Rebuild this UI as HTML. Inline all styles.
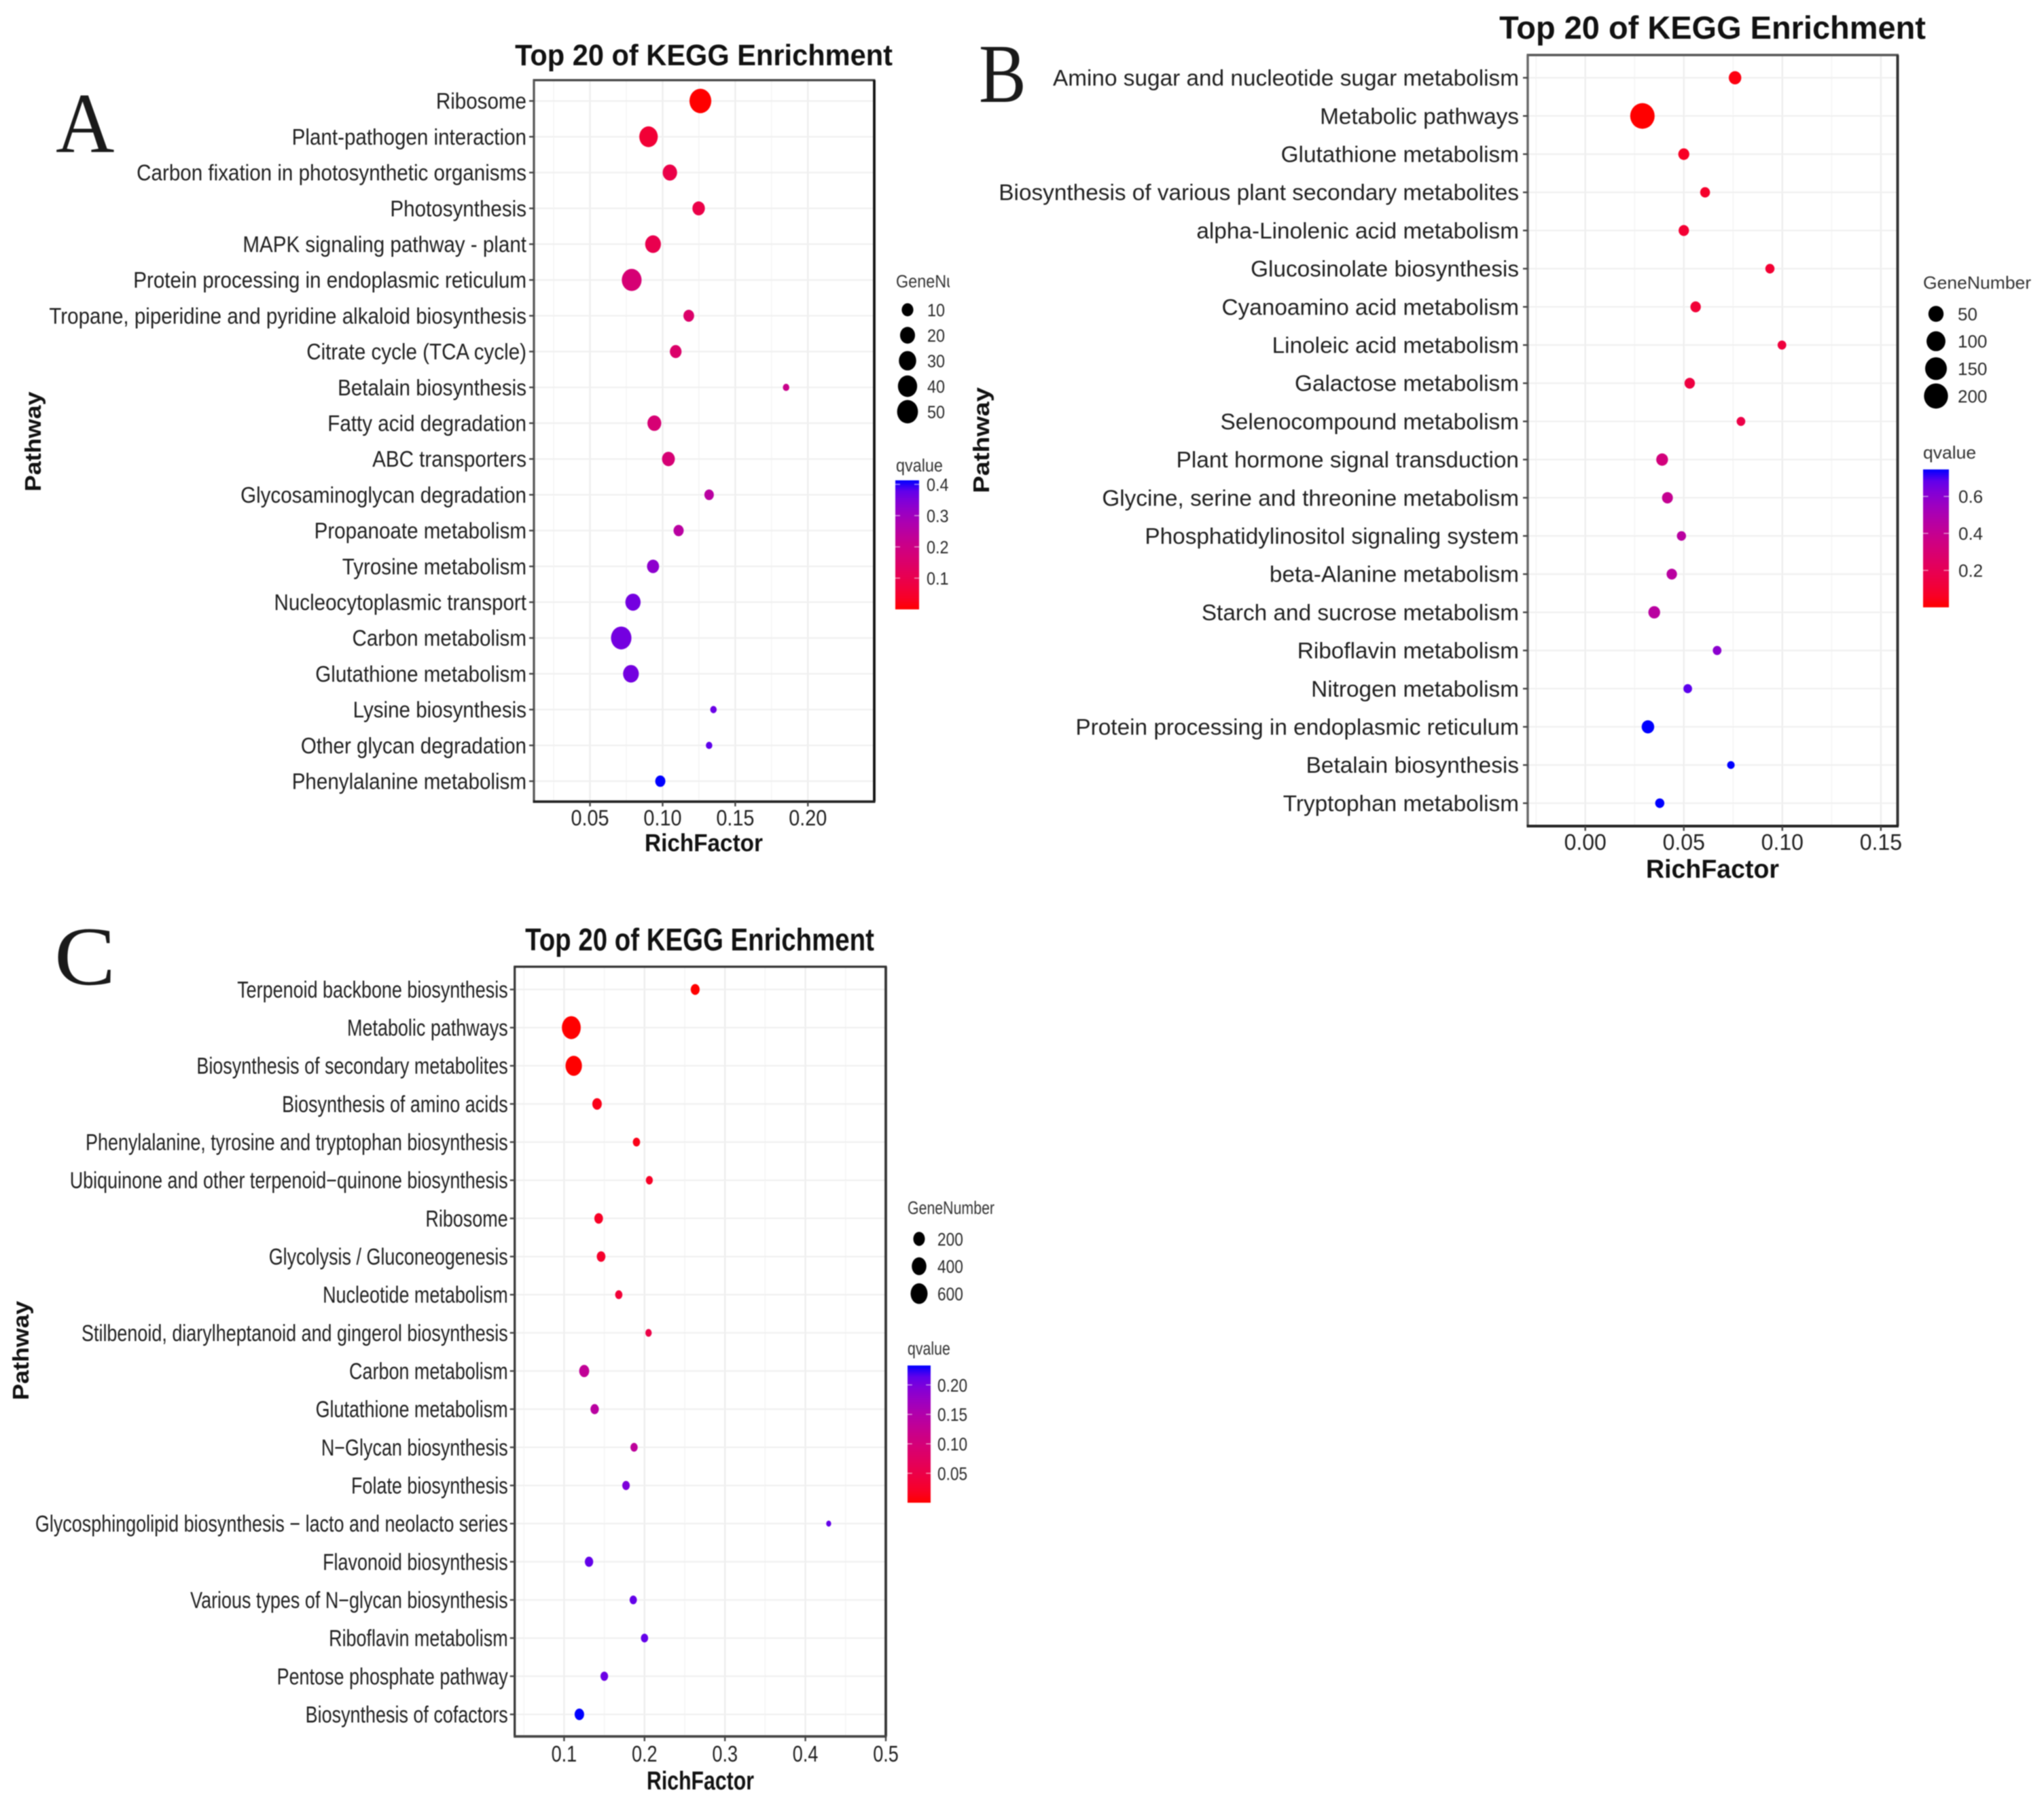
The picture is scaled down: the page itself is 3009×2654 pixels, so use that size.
<!DOCTYPE html>
<html lang="en">
<head>
<meta charset="utf-8">
<title>Top 20 of KEGG Enrichment</title>
<style>
html,body{margin:0;padding:0;background:#fff;}
#figure{display:block;width:3009px;height:2654px;filter:blur(0.9px);font-family:"Liberation Sans",sans-serif;}
</style>
</head>
<body>
<svg id="figure" xmlns="http://www.w3.org/2000/svg" width="3009" height="2654" viewBox="0 0 3009 2654">
<defs id="defs"></defs>
<rect x="0" y="0" width="3009" height="2654" fill="#fff"></rect>
</svg>
<script>
/* Panel A data */
const aPathways = ["Ribosome","Plant-pathogen interaction","Carbon fixation in photosynthetic organisms","Photosynthesis","MAPK signaling pathway - plant","Protein processing in endoplasmic reticulum","Tropane, piperidine and pyridine alkaloid biosynthesis","Citrate cycle (TCA cycle)","Betalain biosynthesis","Fatty acid degradation","ABC transporters","Glycosaminoglycan degradation","Propanoate metabolism","Tyrosine metabolism","Nucleocytoplasmic transport","Carbon metabolism","Glutathione metabolism","Lysine biosynthesis","Other glycan degradation","Phenylalanine metabolism"];
const aRichFactor = [0.126,0.0903,0.105,0.1248,0.0934,0.0787,0.118,0.109,0.185,0.0943,0.104,0.132,0.111,0.0934,0.0796,0.0715,0.0782,0.135,0.132,0.0984];
const aGeneNumber = [56,36,18,12,23,43,8,10,4,16,13,6,7,11,21,47,23,4,4,7];
const aQvalue = [0.0,0.06,0.09,0.09,0.1,0.17,0.15,0.15,0.21,0.17,0.17,0.25,0.25,0.33,0.36,0.36,0.36,0.37,0.38,0.413];
const aXTicks = [0.05,0.10,0.15,0.20];
const aXTickLabels = ["0.05","0.10","0.15","0.20"];
const aSizeBreaks = [10,20,30,40,50];
const aQBreaks = [0.1,0.2,0.3,0.4];
const aQLabels = ["0.1","0.2","0.3","0.4"];

/* Panel B data */
const bPathways = ["Amino sugar and nucleotide sugar metabolism","Metabolic pathways","Glutathione metabolism","Biosynthesis of various plant secondary metabolites","alpha-Linolenic acid metabolism","Glucosinolate biosynthesis","Cyanoamino acid metabolism","Linoleic acid metabolism","Galactose metabolism","Selenocompound metabolism","Plant hormone signal transduction","Glycine, serine and threonine metabolism","Phosphatidylinositol signaling system","beta-Alanine metabolism","Starch and sucrose metabolism","Riboflavin metabolism","Nitrogen metabolism","Protein processing in endoplasmic reticulum","Betalain biosynthesis","Tryptophan metabolism"];
const bRichFactor = [0.076,0.029,0.05,0.0608,0.05,0.0937,0.056,0.0998,0.053,0.079,0.039,0.0417,0.0488,0.0439,0.035,0.0669,0.052,0.0318,0.0739,0.0378];
const bGeneNumber = [26,210,17,12,14,10,14,9,14,9,21,16,10,14,21,9,9,26,8,10];
const bQvalue = [0.02,0.0,0.06,0.08,0.1,0.1,0.11,0.13,0.14,0.16,0.33,0.4,0.45,0.45,0.45,0.6,0.69,0.746,0.746,0.746];
const bXTicks = [0.00,0.05,0.10,0.15];
const bXTickLabels = ["0.00","0.05","0.10","0.15"];
const bSizeBreaks = [50,100,150,200];
const bQBreaks = [0.2,0.4,0.6];
const bQLabels = ["0.2","0.4","0.6"];

/* Panel C data */
const cPathways = ["Terpenoid backbone biosynthesis","Metabolic pathways","Biosynthesis of secondary metabolites","Biosynthesis of amino acids","Phenylalanine, tyrosine and tryptophan biosynthesis","Ubiquinone and other terpenoid\u2212quinone biosynthesis","Ribosome","Glycolysis / Gluconeogenesis","Nucleotide metabolism","Stilbenoid, diarylheptanoid and gingerol biosynthesis","Carbon metabolism","Glutathione metabolism","N\u2212Glycan biosynthesis","Folate biosynthesis","Glycosphingolipid biosynthesis \u2212 lacto and neolacto series","Flavonoid biosynthesis","Various types of N\u2212glycan biosynthesis","Riboflavin metabolism","Pentose phosphate pathway","Biosynthesis of cofactors"];
const cRichFactor = [0.263,0.109,0.112,0.141,0.19,0.206,0.143,0.146,0.168,0.205,0.125,0.138,0.187,0.177,0.429,0.131,0.186,0.2,0.15,0.119];
const cGeneNumber = [85,790,550,105,39,34,76,76,39,24,127,67,39,45,11,67,39,39,47,105];
const cQvalue = [0.0,0.0,0.0,0.01,0.01,0.02,0.02,0.025,0.035,0.05,0.13,0.14,0.135,0.198,0.212,0.212,0.212,0.212,0.208,0.233];
const cXTicks = [0.1,0.2,0.3,0.4,0.5];
const cXTickLabels = ["0.1","0.2","0.3","0.4","0.5"];
const cSizeBreaks = [200,400,600];
const cQBreaks = [0.05,0.10,0.15,0.20];
const cQLabels = ["0.05","0.10","0.15","0.20"];

const NS = "http://www.w3.org/2000/svg";
const svg = document.getElementById("figure");
const defs = document.getElementById("defs");
const INK = "#1f1f1f";

function node(tag, name, parent) {
  const el = document.createElementNS(NS, tag);
  
  
  parent.appendChild(el);
  return el;
}
function line(name, parent, x1, y1, x2, y2, stroke, width) {
  const el = node("line", name, parent);
  el.setAttribute("x1", x1); el.setAttribute("y1", y1);
  el.setAttribute("x2", x2); el.setAttribute("y2", y2);
  el.setAttribute("stroke", stroke); el.setAttribute("stroke-width", width);
  return el;
}
function label(name, parent, str, x, y, size, o) {
  o = o || {};
  const el = node("text", name, parent);
  el.textContent = str;
  el.setAttribute("font-size", size);
  el.setAttribute("fill", o.fill || INK);
  el.setAttribute("font-family", o.family || '"Liberation Sans", sans-serif');
  if (o.bold) el.setAttribute("font-weight", "bold");
  el.setAttribute("text-anchor", o.anchor || "start");
  let sx = o.stretch || 1;
  if (o.target) sx = o.target / el.getComputedTextLength();
  const rot = o.rotate ? " rotate(" + o.rotate + ")" : "";
  el.setAttribute("transform", "translate(" + x + " " + y + ")" + rot + " scale(" + sx + " 1)");
  return el;
}

/* ggplot-style red-to-blue gradient, interpolated in Lab */
function toLab(c) {
  const f = c.map(v => { v /= 255; return v > 0.04045 ? Math.pow((v + 0.055) / 1.055, 2.4) : v / 12.92; });
  const X = (0.4124 * f[0] + 0.3576 * f[1] + 0.1805 * f[2]) / 0.95047;
  const Y = 0.2126 * f[0] + 0.7152 * f[1] + 0.0722 * f[2];
  const Z = (0.0193 * f[0] + 0.1192 * f[1] + 0.9505 * f[2]) / 1.08883;
  const g = t => t > 0.008856 ? Math.cbrt(t) : 7.787 * t + 16 / 116;
  return [116 * g(Y) - 16, 500 * (g(X) - g(Y)), 200 * (g(Y) - g(Z))];
}
function fromLab(l) {
  const fy = (l[0] + 16) / 116, fx = fy + l[1] / 500, fz = fy - l[2] / 200;
  const h = t => t * t * t > 0.008856 ? t * t * t : (t - 16 / 116) / 7.787;
  const X = h(fx) * 0.95047, Y = h(fy), Z = h(fz) * 1.08883;
  const r = [3.2406 * X - 1.5372 * Y - 0.4986 * Z, -0.9689 * X + 1.8758 * Y + 0.0415 * Z, 0.0557 * X - 0.204 * Y + 1.057 * Z];
  const out = r.map(v => { v = Math.max(0, Math.min(1, v)); v = v > 0.0031308 ? 1.055 * Math.pow(v, 1 / 2.4) - 0.055 : 12.92 * v; return Math.round(v * 255); });
  return "rgb(" + out.join(",") + ")";
}
const LAB_RED = toLab([255, 0, 0]);
const LAB_BLUE = toLab([0, 0, 255]);
function gradient(t) {
  t = Math.max(0, Math.min(1, t));
  return fromLab(LAB_RED.map((v, i) => v + (LAB_BLUE[i] - v) * t));
}

function drawPanel(p) {
  const g = node("g", p.id + "-panel", svg);
  const xScale = v => p.left + (v - p.xMin) / (p.xMax - p.xMin) * (p.right - p.left);
  const yRow = i => p.firstRow + i * p.rowStep;
  const sizeScale = n => p.dMin + (p.dMax - p.dMin) * Math.sqrt(Math.max(0, n - p.gMin) / (p.gMax - p.gMin));
  const colorScale = q => gradient(q / p.qMax);

  label(p.id + "-panel-letter", g, p.letter, p.letterX, p.letterY, p.letterSize, {family: '"Liberation Serif", serif', fill: "#1a1a1a", stretch: p.letterStretch});
  label(p.id + "-chart-title", g, "Top 20 of KEGG Enrichment", (p.titleL + p.titleR) / 2, p.titleY, p.titleSize, {bold: true, anchor: "middle", target: p.titleR - p.titleL, fill: "#111"});

  const grid = node("g", p.id + "-gridlines", g);
  p.xTicks.forEach((v, i) => {
    line(p.id + "-x-major-gridline", grid, xScale(v), p.top, xScale(v), p.bottom, "#eeeeee", 2.4);
    if (i < p.xTicks.length - 1) {
      const m = (v + p.xTicks[i + 1]) / 2;
      line(p.id + "-x-minor-gridline", grid, xScale(m), p.top, xScale(m), p.bottom, "#f5f5f5", 1.6);
    }
  });
  const m0 = p.xTicks[0] - (p.xTicks[1] - p.xTicks[0]) / 2;
  if (m0 > p.xMin) line(p.id + "-x-minor-gridline", grid, xScale(m0), p.top, xScale(m0), p.bottom, "#f5f5f5", 1.6);
  p.pathways.forEach((name, i) => {
    line(p.id + "-y-gridline", grid, p.left, yRow(i), p.right, yRow(i), "#f0f0f0", 2.2);
  });

  const dots = node("g", p.id + "-dots", g);
  p.pathways.forEach((name, i) => {
    const d = sizeScale(p.gene[i]);
    const dot = node("ellipse", p.id + "-dot", dots);
    dot.setAttribute("cx", xScale(p.rich[i]));
    dot.setAttribute("cy", yRow(i));
    dot.setAttribute("rx", d / 2 * p.dotX);
    dot.setAttribute("ry", d / 2 * p.dotY);
    dot.setAttribute("fill", colorScale(p.q[i]));
  });

  const frame = node("g", p.id + "-plot-frame", g);
  line(p.id + "-frame-top", frame, p.left - 1.5, p.top, p.right + 1.5, p.top, p.frameTop, p.frameWidth);
  line(p.id + "-frame-left", frame, p.left, p.top, p.left, p.bottom, p.frameLeft, p.frameWidth);
  line(p.id + "-frame-right", frame, p.right, p.top, p.right, p.bottom, p.frameRight, p.frameWidth + 0.6);
  line(p.id + "-frame-bottom", frame, p.left - 1.5, p.bottom, p.right + 1.5, p.bottom, p.frameBottom, p.frameWidth + 0.6);

  const probe = node("text", p.id + "-probe", g);
  probe.textContent = p.longest;
  probe.setAttribute("font-size", p.rowFont);
  probe.setAttribute("font-family", '"Liberation Sans", sans-serif');
  const rowStretch = p.longestWidth / probe.getComputedTextLength();
  g.removeChild(probe);

  p.pathways.forEach((name, i) => {
    line(p.id + "-y-tick", g, p.left - 7, yRow(i), p.left, yRow(i), "#444", 2.4);
    label(p.id + "-pathway-label", g, name, p.left - p.labelGap, yRow(i) + p.rowFont * 0.35, p.rowFont, {anchor: "end", stretch: rowStretch});
  });
  p.xTicks.forEach((v, i) => {
    line(p.id + "-x-tick", g, xScale(v), p.bottom, xScale(v), p.bottom + 7, "#444", 2.4);
    label(p.id + "-x-tick-label", g, p.xLabels[i], xScale(v), p.xLabelY, p.tickFont, {anchor: "middle", stretch: p.tickStretch});
  });
  label(p.id + "-x-axis-title", g, "RichFactor", (p.xTitleL + p.xTitleR) / 2, p.xTitleY, p.xTitleFont, {bold: true, anchor: "middle", target: p.xTitleR - p.xTitleL, fill: "#111"});
  label(p.id + "-y-axis-title", g, "Pathway", p.yTitleX, p.yTitleY, p.yTitleFont, {bold: true, anchor: "middle", rotate: -90, target: p.yTitleLen, fill: "#111"});

  /* size legend */
  const sizeLegend = node("g", p.id + "-size-legend", g);
  let titleParent = sizeLegend;
  if (p.legendClip) {
    const cp = node("clipPath", p.id + "-legend-title-clip", defs);
    cp.setAttribute("id", p.id + "-legend-clip");
    const cr = node("rect", p.id + "-legend-title-clip-rect", cp);
    cr.setAttribute("x", p.legendX - 5); cr.setAttribute("y", 0);
    cr.setAttribute("width", p.legendClip - p.legendX + 5); cr.setAttribute("height", 2654);
    titleParent = node("g", p.id + "-legend-title-clip-group", sizeLegend);
    titleParent.setAttribute("clip-path", "url(#" + p.id + "-legend-clip)");
  }
  label(p.id + "-size-legend-title", titleParent, "GeneNumber", p.legendX, p.sizeTitleY, p.legendFont, {fill: "#333", stretch: p.legendTitleStretch});
  p.sizeBreaks.forEach((n, i) => {
    const d = sizeScale(n);
    const y = p.sizeY + i * p.sizeStep;
    const key = node("ellipse", p.id + "-size-legend-dot", sizeLegend);
    key.setAttribute("cx", p.sizeDotX); key.setAttribute("cy", y);
    key.setAttribute("rx", d / 2 * p.dotX); key.setAttribute("ry", d / 2 * p.dotY);
    key.setAttribute("fill", "#000");
    label(p.id + "-size-legend-label", sizeLegend, String(n), p.sizeLabelX, y + p.legendFont * 0.36, p.legendFont, {fill: "#2a2a2a", stretch: p.legendStretch});
  });

  /* colour legend */
  const colorLegend = node("g", p.id + "-qvalue-legend", g);
  label(p.id + "-qvalue-legend-title", colorLegend, "qvalue", p.legendX, p.qTitleY, p.legendFont, {fill: "#333", stretch: p.legendTitleStretch});
  const grad = node("linearGradient", p.id + "-colorbar-gradient", defs);
  grad.setAttribute("id", p.id + "-grad");
  grad.setAttribute("x1", "0"); grad.setAttribute("y1", "1"); grad.setAttribute("x2", "0"); grad.setAttribute("y2", "0");
  for (let s = 0; s <= 12; s++) {
    const stop = node("stop", p.id + "-colorbar-stop", grad);
    stop.setAttribute("offset", s / 12);
    stop.setAttribute("stop-color", gradient(s / 12));
  }
  const bar = node("rect", p.id + "-colorbar", colorLegend);
  bar.setAttribute("x", p.barL); bar.setAttribute("y", p.barTop);
  bar.setAttribute("width", p.barR - p.barL); bar.setAttribute("height", p.barBottom - p.barTop);
  bar.setAttribute("fill", "url(#" + p.id + "-grad)");
  const qY = q => p.barBottom - q / p.qMax * (p.barBottom - p.barTop);
  p.qBreaks.forEach((q, i) => {
    const y = qY(q), t = (p.barR - p.barL) / 5;
    line(p.id + "-colorbar-tick", colorLegend, p.barL, y, p.barL + t, y, "rgba(255,255,255,0.55)", 1.6);
    line(p.id + "-colorbar-tick", colorLegend, p.barR - t, y, p.barR, y, "rgba(255,255,255,0.55)", 1.6);
    label(p.id + "-colorbar-label", colorLegend, p.qLabels[i], p.qLabelX, y + p.legendFont * 0.36, p.legendFont, {fill: "#2a2a2a", stretch: p.legendStretch});
  });
}

drawPanel({
  id: "a", letter: "A", letterX: 82, letterY: 224, letterSize: 126, letterStretch: 0.95,
  titleL: 758, titleR: 1314, titleY: 96, titleSize: 44,
  left: 786, right: 1287, top: 118, bottom: 1180, xMin: 0.0114, xMax: 0.2457,
  firstRow: 148.6, rowStep: 52.7, pathways: aPathways, rich: aRichFactor, gene: aGeneNumber, q: aQvalue,
  gMin: 4, gMax: 60, dMin: 9.5, dMax: 33, dotX: 1, dotY: 1.12, frameWidth: 3.2,
  frameTop: "#444", frameLeft: "#555", frameRight: "#111", frameBottom: "#222",
  qMax: 0.413, xTicks: aXTicks, xLabels: aXTickLabels,
  longest: aPathways[6], longestWidth: 703, rowFont: 33, labelGap: 11,
  xLabelY: 1215, tickFont: 32, tickStretch: 0.9,
  xTitleL: 949, xTitleR: 1123, xTitleY: 1253, xTitleFont: 36,
  yTitleX: 60, yTitleY: 650, yTitleFont: 33, yTitleLen: 147,
  legendX: 1319, legendClip: 1398, sizeTitleY: 423, legendFont: 26, legendStretch: 0.9, legendTitleStretch: 0.9,
  sizeBreaks: aSizeBreaks, sizeY: 456, sizeStep: 37.5, sizeDotX: 1336, sizeLabelX: 1365,
  qTitleY: 694, barL: 1318, barR: 1353, barTop: 707, barBottom: 897, qBreaks: aQBreaks, qLabels: aQLabels, qLabelX: 1364
});

drawPanel({
  id: "b", letter: "B", letterX: 1441, letterY: 150, letterSize: 123, letterStretch: 0.85,
  titleL: 2207, titleR: 2835, titleY: 57, titleSize: 47,
  left: 2249, right: 2793.5, top: 81, bottom: 1216, xMin: -0.0292, xMax: 0.1585,
  firstRow: 114.5, rowStep: 56.2, pathways: bPathways, rich: bRichFactor, gene: bGeneNumber, q: bQvalue,
  gMin: 8, gMax: 210, dMin: 11, dMax: 36, dotX: 1, dotY: 1.05, frameWidth: 3.4,
  frameTop: "#555", frameLeft: "#666", frameRight: "#333", frameBottom: "#222",
  qMax: 0.746, xTicks: bXTicks, xLabels: bXTickLabels,
  longest: bPathways[3], longestWidth: 766, rowFont: 33, labelGap: 13,
  xLabelY: 1251, tickFont: 33, tickStretch: 0.97,
  xTitleL: 2423, xTitleR: 2619, xTitleY: 1292, xTitleFont: 38,
  yTitleX: 1456, yTitleY: 648, yTitleFont: 33, yTitleLen: 156,
  legendX: 2831, legendClip: 0, sizeTitleY: 425, legendFont: 26, legendStretch: 1, legendTitleStretch: 1.02,
  sizeBreaks: bSizeBreaks, sizeY: 462, sizeStep: 40.3, sizeDotX: 2850, sizeLabelX: 2882,
  qTitleY: 675, barL: 2831, barR: 2869, barTop: 691, barBottom: 894, qBreaks: bQBreaks, qLabels: bQLabels, qLabelX: 2883
});

drawPanel({
  id: "c", letter: "C", letterX: 80, letterY: 1449, letterSize: 123, letterStretch: 1.1,
  titleL: 773, titleR: 1287, titleY: 1399, titleSize: 46,
  left: 757.7, right: 1304, top: 1423, bottom: 2556, xMin: 0.0386, xMax: 0.5,
  firstRow: 1456.5, rowStep: 56.16, pathways: cPathways, rich: cRichFactor, gene: cGeneNumber, q: cQvalue,
  gMin: 10, gMax: 800, dMin: 8, dMax: 34, dotX: 0.82, dotY: 1, frameWidth: 3.2,
  frameTop: "#333", frameLeft: "#333", frameRight: "#333", frameBottom: "#444",
  qMax: 0.233, xTicks: cXTicks, xLabels: cXTickLabels,
  longest: cPathways[14], longestWidth: 696, rowFont: 34, labelGap: 10,
  xLabelY: 2593, tickFont: 33, tickStretch: 0.82,
  xTitleL: 952, xTitleR: 1110, xTitleY: 2634, xTitleFont: 38,
  yTitleX: 42, yTitleY: 1988, yTitleFont: 33, yTitleLen: 146,
  legendX: 1336, legendClip: 0, sizeTitleY: 1787, legendFont: 27, legendStretch: 0.84, legendTitleStretch: 0.79,
  sizeBreaks: cSizeBreaks, sizeY: 1823.6, sizeStep: 40.3, sizeDotX: 1353, sizeLabelX: 1380,
  qTitleY: 1994, barL: 1336, barR: 1370, barTop: 2010, barBottom: 2212, qBreaks: cQBreaks, qLabels: cQLabels, qLabelX: 1380
});
</script>
</body>
</html>
